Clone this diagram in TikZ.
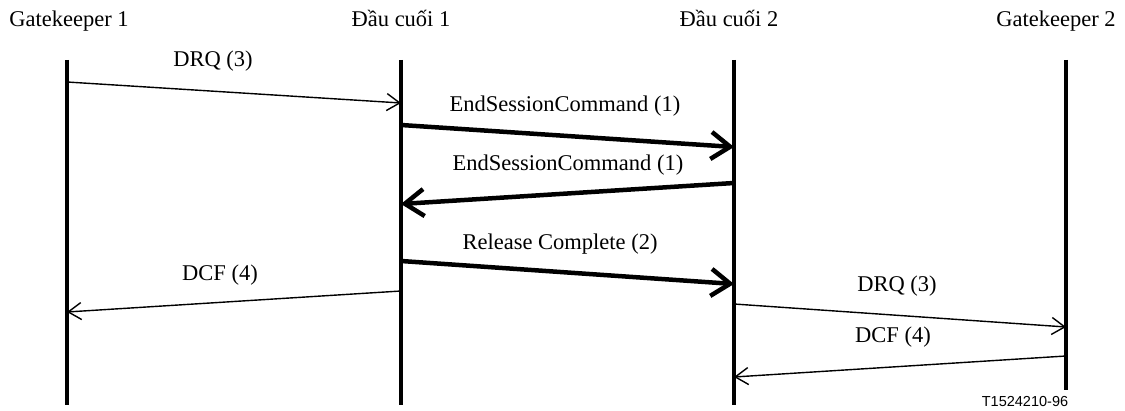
\documentclass[tikz,border=0pt]{standalone}
\usepackage{fontspec}
\setmainfont{Liberation Serif}
\newfontfamily\tagfont{Liberation Sans}
\usetikzlibrary{arrows.meta}
\begin{document}
\begin{tikzpicture}[x=1pt,y=-1pt,
  head/.style={anchor=base, font=\fontsize{22.5}{26}\selectfont, inner sep=0pt},
  msglabel/.style={anchor=base, font=\fontsize{22.5}{26}\selectfont, inner sep=0pt},
  lifeline/.style={line width=4pt},
  thinmsg/.style={line width=1.4pt, -{Straight Barb[length=13pt,width=17pt]}},
  thickmsg/.style={line width=4.5pt, -{Straight Barb[length=19pt,width=27pt]}},
]
\useasboundingbox (0,0) rectangle (1125,411);

% entity headings
\node[head] (hgk1) at (69,27) {Gatekeeper 1};
\node[head] (hd1) at (401,27) {Đầu cuối 1};
\node[head] (hd2) at (729,27) {Đầu cuối 2};
\node[head] (hgk2) at (1056,27) {Gatekeeper 2};

% lifelines
\coordinate (gk1top) at (67,60);   \coordinate (gk1bot) at (67,405);
\coordinate (d1top) at (401,60);   \coordinate (d1bot) at (401,405);
\coordinate (d2top) at (734,60);   \coordinate (d2bot) at (734,405);
\coordinate (gk2top) at (1066,60); \coordinate (gk2bot) at (1066,390);
\draw[lifeline] (gk1top) -- (gk1bot);
\draw[lifeline] (d1top) -- (d1bot);
\draw[lifeline] (d2top) -- (d2bot);
\draw[lifeline] (gk2top) -- (gk2bot);

% message end points
\coordinate (m1s) at (67,82);    \coordinate (m1e) at (401,103);
\coordinate (m2s) at (401,125);  \coordinate (m2e) at (734,147);
\coordinate (m3s) at (734,183);  \coordinate (m3e) at (401,204);
\coordinate (m4s) at (401,261);  \coordinate (m4e) at (734,284);
\coordinate (m5s) at (401,291);  \coordinate (m5e) at (67,312);
\coordinate (m6s) at (734,304);  \coordinate (m6e) at (1066,327);
\coordinate (m7s) at (1066,356); \coordinate (m7e) at (734,377);

% messages
\draw[thinmsg]  (m1s) -- (m1e);
\draw[thickmsg] (m2s) -- (m2e);
\draw[thickmsg] (m3s) -- (m3e);
\draw[thickmsg] (m4s) -- (m4e);
\draw[thinmsg]  (m5s) -- (m5e);
\draw[thinmsg]  (m6s) -- (m6e);
\draw[thinmsg]  (m7s) -- (m7e);

% message labels
\node[msglabel] (l1) at (213,67)  {DRQ (3)};
\node[msglabel] (l2) at (565,112) {EndSessionCommand (1)};
\node[msglabel] (l3) at (568,171) {EndSessionCommand (1)};
\node[msglabel] (l4) at (560,250) {Release Complete (2)};
\node[msglabel] (l5) at (220,281) {DCF (4)};
\node[msglabel] (l6) at (897,292) {DRQ (3)};
\node[msglabel] (l7) at (893,343) {DCF (4)};

% figure tag
\node[anchor=base, inner sep=0pt, font=\tagfont\fontsize{14.5}{17}\selectfont] (tag) at (1025,407) {T1524210-96};
\end{tikzpicture}
\end{document}
